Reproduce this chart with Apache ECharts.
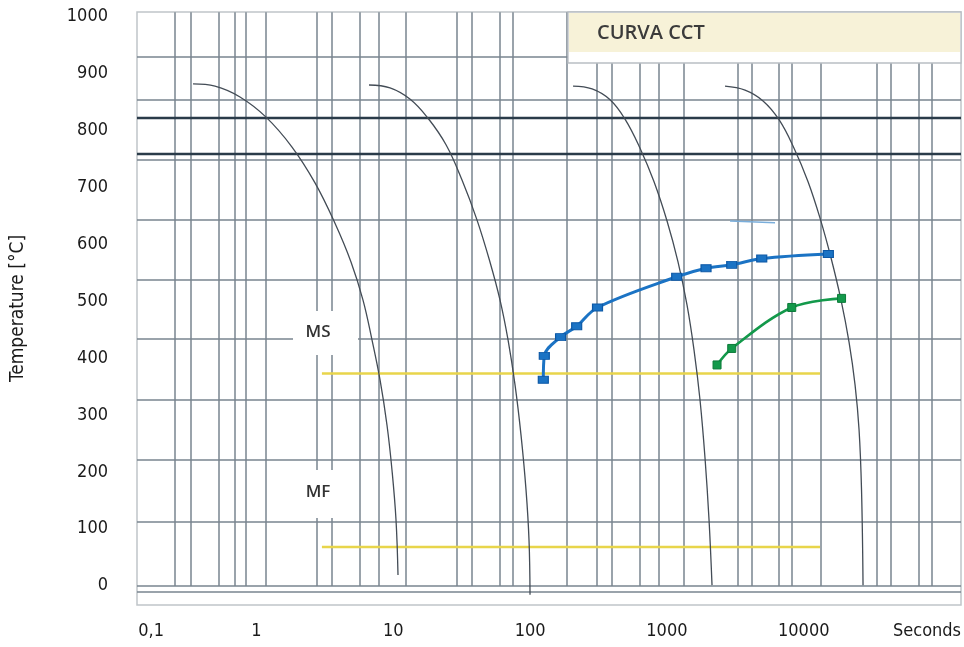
<!DOCTYPE html>
<html>
<head>
<meta charset="utf-8">
<title>CURVA CCT</title>
<script src="https://cdn.jsdelivr.net/npm/echarts@6/dist/echarts.min.js"></script>
<style>
  html, body { margin: 0; padding: 0; background: #fff; }
  #chart { width: 964px; height: 647px; }
</style>
</head>
<body>
<div id="chart"></div>
<script>
// axis labels (time in seconds, log scale) — "0,1" and "Seconds" sit where the original prints them
var xLabels = ['0,1', '1', '10', '100', '1000', '10000', 'Seconds'];
var xLabelAt = [0.17, 1, 10, 100, 1000, 10000, 79600];
var yLabels = [0, 100, 200, 300, 400, 500, 600, 700, 800, 900, 1000];

// paper grid of the scanned diagram
var gridTimes = [0.254, 0.332, 0.533, 0.697, 0.839, 1.175, 2.77, 3.57, 5.71, 7.87, 12.4,
                 29.2, 37.6, 60.3, 75.0, 186, 308, 397, 636, 875, 1333, 3308, 4188, 6597,
                 8210, 13376, 34330, 43450, 69610, 86630];
var gridTemps = [929, 854, 749, 643, 537, 434, 326, 221, 112, -0.5, -11];
var acTemps = [823, 760];

// cooling curves [s, °C]
var cool1 = [[0.344,882],[0.498,878],[0.758,859],[1.17,824],[1.82,771],[2.68,708],[3.75,637],
             [4.91,569],[6.01,502],[6.99,432],[8.0,362],[9.0,282],[9.79,203],[10.47,116],[10.83,19]];
var cool2 = [[6.65,880],[9.47,875],[13.3,855],[17.9,822],[24.3,775],[31.8,713],[40.9,643],
             [50.9,569],[60.3,502],[69.0,432],[77.6,353],[85.8,265],[93.4,168],[98.2,80],[99.9,-16]];
var cool3 = [[206,878],[284,873],[384,854],[494,820],[636,769],[805,710],[1002,641],
             [1205,569],[1403,493],[1578,414],[1746,326],[1899,224],[2031,116],[2136,1]];
var cool4 = [[2658,878],[3723,871],[5040,852],[6597,819],[8491,769],[10750,710],[13150,646],
             [15830,576],[18730,502],[21430,428],[23710,353],[25360,274],[26440,168],[27120,1]];

// transformation curves
var blueCurve = [[124.9,362],[127,404],[167,437],[219,456],[311,489],[1179,543],
                 [1931,558],[2976,564],[4931,575],[15125,583]];
var greenCurve = [[2324,388],[2976,417],[8169,489],[18890,505]];
var blueDash = [[2893,641],[6168,638]];

// martensite start / finish
var msLine = [[3.01,373],[13150,373]];
var mfLine = [[3.01,68],[13150,68]];

var FONT = "'DejaVu Sans Condensed', 'Liberation Sans', sans-serif";
var X_MIN = 0.134, X_MAX = 141000, Y_MIN = -33.9, Y_MAX = 1008.3;

var chart = echarts.init(document.getElementById('chart'));

var paperLines = [];
gridTimes.forEach(function (t) {
    paperLines.push([{ coord: [t, -0.5] }, { coord: [t, 1008] }]);
});
gridTemps.forEach(function (v) {
    paperLines.push({ yAxis: v });
});
acTemps.forEach(function (v) {
    paperLines.push({ yAxis: v, lineStyle: { color: '#2a3b49', width: 2.4 } });
});

function coolSeries(data) {
    return {
        type: 'line', data: data, smooth: 0.4, showSymbol: false, silent: true, z: 5,
        lineStyle: { color: '#434c56', width: 1.3 }
    };
}

chart.setOption({
    animation: false,
    backgroundColor: '#fff',
    grid: {
        left: 137, right: 3, top: 12, bottom: 42,
        show: true, backgroundColor: '#fff', borderColor: '#c0c5c9', borderWidth: 1.5,
        outerBoundsMode: 'none'
    },
    xAxis: {
        type: 'log', logBase: 10, min: X_MIN, max: X_MAX,
        axisLine: { show: false }, axisTick: { show: false }, splitLine: { show: false },
        axisLabel: {
            customValues: xLabelAt,
            margin: 17, color: '#1a1a1a', fontSize: 18, fontFamily: FONT,
            formatter: function (v) {
                var best = 0, d = Infinity;
                xLabelAt.forEach(function (p, i) {
                    var e = Math.abs(Math.log10(v) - Math.log10(p));
                    if (e < d) { d = e; best = i; }
                });
                return xLabels[best];
            }
        }
    },
    yAxis: {
        type: 'value', min: Y_MIN, max: Y_MAX,
        name: 'Temperature [°C]', nameLocation: 'middle', nameRotate: 90, nameGap: 109,
        nameTextStyle: { color: '#1a1a1a', fontSize: 19, fontFamily: FONT },
        axisLine: { show: false }, axisTick: { show: false }, splitLine: { show: false },
        axisLabel: {
            customValues: yLabels, margin: 29, color: '#1a1a1a', fontSize: 18, fontFamily: FONT,
            formatter: function (v) { return String(v); }
        }
    },
    graphic: [
        { type: 'rect', z: 3, shape: { x: 568, y: 12, width: 393, height: 51 },
          style: { fill: '#fff', stroke: '#b9bec3', lineWidth: 1.3 } },
        { type: 'rect', z: 3, shape: { x: 569, y: 13, width: 391, height: 39 },
          style: { fill: '#f7f2d8' } },
        { type: 'text', z: 4, x: 597, y: 33,
          style: { text: 'CURVA CCT', fill: '#3b3b3b', font: '600 20px "Open Sans"', verticalAlign: 'middle' } },
        { type: 'rect', z: 3, shape: { x: 293, y: 311, width: 65, height: 44 }, style: { fill: '#fff' } },
        { type: 'text', z: 4, x: 318, y: 332,
          style: { text: 'MS', fill: '#333', font: '600 17px "Open Sans"', align: 'center', verticalAlign: 'middle' } },
        { type: 'rect', z: 3, shape: { x: 296, y: 470, width: 62, height: 48 }, style: { fill: '#fff' } },
        { type: 'text', z: 4, x: 318, y: 492,
          style: { text: 'MF', fill: '#333', font: '600 17px "Open Sans"', align: 'center', verticalAlign: 'middle' } }
    ],
    series: [
        {
            type: 'line', name: 'paper', data: [], silent: true,
            markLine: {
                silent: true, z: 1, symbol: ['none', 'none'], label: { show: false },
                lineStyle: { color: '#78848f', width: 1.5, type: 'solid' },
                emphasis: { disabled: true },
                data: paperLines
            }
        },
        coolSeries(cool1), coolSeries(cool2), coolSeries(cool3), coolSeries(cool4),
        { type: 'line', data: msLine, showSymbol: false, silent: true, z: 4,
          lineStyle: { color: '#e8d54b', width: 2.6 } },
        { type: 'line', data: mfLine, showSymbol: false, silent: true, z: 4,
          lineStyle: { color: '#e8d54b', width: 2.6 } },
        { type: 'line', data: blueDash, showSymbol: false, silent: true, z: 4,
          lineStyle: { color: '#7aaedb', width: 1.5 } },
        { type: 'line', data: blueCurve, smooth: 0.35, z: 6,
          symbol: 'rect', symbolSize: [10, 7], showAllSymbol: true,
          itemStyle: { color: '#1b73c4', borderColor: '#0c58a6', borderWidth: 1 },
          lineStyle: { color: '#1b73c4', width: 3 } },
        { type: 'line', data: greenCurve, smooth: 0.35, z: 6,
          symbol: 'rect', symbolSize: [8, 8], showAllSymbol: true,
          itemStyle: { color: '#13994b', borderColor: '#0c7a39', borderWidth: 1 },
          lineStyle: { color: '#13994b', width: 2.6 } }
    ]
});
</script>
</body>
</html>
